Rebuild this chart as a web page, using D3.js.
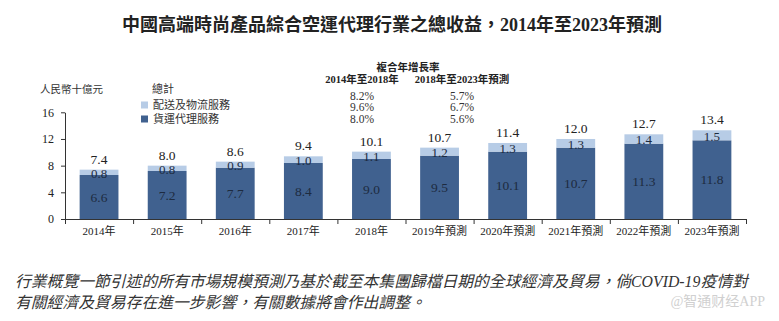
<!DOCTYPE html>
<html>
<head>
<meta charset="utf-8">
<script src="https://cdn.jsdelivr.net/npm/d3@7"></script>
<style>
  body { margin: 0; background: #fff; }
  svg text { font-family: "Liberation Serif", "Noto Sans CJK TC", serif; }
</style>
</head>
<body>
<div id="chart"></div>
<script>
// Air freight revenue, RMB billions
const years = ["2014年", "2015年", "2016年", "2017年", "2018年", "2019年預測", "2020年預測", "2021年預測", "2022年預測", "2023年預測"];
const freight = [6.6, 7.2, 7.7, 8.4, 9.0, 9.5, 10.1, 10.7, 11.3, 11.8];
const delivery = [0.8, 0.8, 0.9, 1.0, 1.1, 1.2, 1.3, 1.3, 1.4, 1.5];
const totals = [7.4, 8.0, 8.6, 9.4, 10.1, 10.7, 11.4, 12.0, 12.7, 13.4];
const yTicks = [0, 4, 8, 12, 16];

// CAGR table
const cagrHeads = ["2014年至2018年", "2018年至2023年預測"];
const cagrFirst = ["8.2%", "9.6%", "8.0%"];
const cagrSecond = ["5.7%", "6.7%", "5.6%"];

const dark = "#40618f";
const light = "#b7cce6";

const W = 779, H = 321;
const svg = d3.select("#chart").append("svg")
    .attr("width", W)
    .attr("height", H);

svg.append("rect").attr("width", W).attr("height", H).attr("fill", "#fff");

// Title
svg.append("text")
    .attr("x", 392)
    .attr("y", 31)
    .attr("text-anchor", "middle")
    .attr("font-size", 18)
    .attr("font-weight", "bold")
    .attr("fill", "#222")
    .text("中國高端時尚產品綜合空運代理行業之總收益，2014年至2023年預測");

// Scales
const x = d3.scaleBand().domain(years).range([65, 746]).paddingInner(0.43).paddingOuter(0.215);
const y = d3.scaleLinear().domain([0, 16]).range([219, 112.3]);
const xEdge = d3.scaleLinear().domain([0, years.length]).range([65, 746]);

// Stacked bars
const rows = years.map((yr, i) => ({ year: yr, freight: freight[i], delivery: delivery[i] }));
const stacked = d3.stack().keys(["freight", "delivery"])(rows);
const fills = { freight: dark, delivery: light };

svg.append("g").selectAll("g")
    .data(stacked)
    .join("g")
    .attr("fill", d => fills[d.key])
    .selectAll("rect")
    .data(d => d)
    .join("rect")
    .attr("x", d => x(d.data.year))
    .attr("y", d => y(d[1]))
    .attr("width", x.bandwidth())
    .attr("height", d => y(d[0]) - y(d[1]));

// Axes
svg.append("g")
    .attr("transform", "translate(65,0)")
    .call(d3.axisLeft(y).tickValues(yTicks).tickSize(4).tickSizeOuter(0).tickPadding(7))
    .call(g => g.selectAll("text").attr("font-size", 12).attr("fill", "#222"))
    .call(g => g.selectAll("line, path").attr("stroke", "#333"));

svg.append("g")
    .attr("transform", "translate(0,219)")
    .call(d3.axisBottom(xEdge).tickValues(d3.range(years.length + 1)).tickFormat("").tickSize(5).tickSizeOuter(0))
    .call(g => g.selectAll("line, path").attr("stroke", "#333"));

svg.append("g")
    .attr("transform", "translate(0,219)")
    .call(d3.axisBottom(x).tickSize(0).tickPadding(8))
    .call(g => g.select(".domain").remove())
    .call(g => g.selectAll("text").attr("font-size", 11).attr("fill", "#222"));

// Value labels
const labels = svg.append("g").attr("text-anchor", "middle");
rows.forEach((r, i) => {
    const cx = x(r.year) + x.bandwidth() / 2;
    labels.append("text")
        .attr("x", cx)
        .attr("y", y(freight[i] + delivery[i]) - 6)
        .attr("font-size", 13.5)
        .attr("fill", "#222")
        .text(totals[i].toFixed(1));
    labels.append("text")
        .attr("x", cx)
        .attr("y", (y(freight[i]) + y(freight[i] + delivery[i])) / 2)
        .attr("dy", "0.4em")
        .attr("font-size", 13)
        .attr("fill", "#1d2b40")
        .text(delivery[i].toFixed(1));
    labels.append("text")
        .attr("x", cx)
        .attr("y", (y(0) + y(freight[i])) / 2)
        .attr("dy", "0.35em")
        .attr("font-size", 13.5)
        .attr("fill", "#1d2b40")
        .text(freight[i].toFixed(1));
});

// Unit and legend
svg.append("text")
    .attr("x", 40).attr("y", 93)
    .attr("font-size", 10.5).attr("fill", "#333")
    .text("人民幣十億元");

svg.append("text")
    .attr("x", 152).attr("y", 93)
    .attr("font-size", 11).attr("fill", "#333")
    .text("總計");

const legend = [["配送及物流服務", light], ["貨運代理服務", dark]];
legend.forEach(([name, color], i) => {
    const ly = 105 + i * 14;
    svg.append("rect")
        .attr("x", 141).attr("y", ly - 3.5)
        .attr("width", 7).attr("height", 7)
        .attr("fill", color);
    svg.append("text")
        .attr("x", 153).attr("y", ly + 4)
        .attr("font-size", 11).attr("fill", "#333")
        .text(name);
});

// CAGR block
svg.append("text")
    .attr("x", 408).attr("y", 71)
    .attr("text-anchor", "middle")
    .attr("font-size", 10.5).attr("font-weight", "bold").attr("fill", "#222")
    .text("複合年增長率");

const cagrX = [362, 462];
cagrHeads.forEach((h, i) => {
    svg.append("text")
        .attr("x", cagrX[i]).attr("y", 83)
        .attr("text-anchor", "middle")
        .attr("font-size", 10.5).attr("font-weight", "bold").attr("fill", "#222")
        .text(h);
});
[cagrFirst, cagrSecond].forEach((col, c) => {
    col.forEach((v, i) => {
        svg.append("text")
            .attr("x", cagrX[c]).attr("y", 99.5 + i * 11.5)
            .attr("text-anchor", "middle")
            .attr("font-size", 11.5).attr("fill", "#333")
            .text(v);
    });
});

// Footnote
const notes = [
    "行業概覽一節引述的所有市場規模預測乃基於截至本集團歸檔日期的全球經濟及貿易，倘COVID-19疫情對",
    "有關經濟及貿易存在進一步影響，有關數據將會作出調整。"
];
notes.forEach((t, i) => {
    svg.append("text")
        .attr("x", 15).attr("y", 287 + i * 21)
        .attr("font-size", 15.8)
        .attr("font-style", "italic")
        .attr("fill", "#333")
        .text(t);
});

svg.append("text")
    .attr("x", 765).attr("y", 306)
    .attr("text-anchor", "end")
    .attr("font-family", "Noto Sans CJK SC, sans-serif")
    .attr("font-size", 14)
    .attr("fill", "#d0d0d0")
    .text("@智通财经APP");
</script>
</body>
</html>
